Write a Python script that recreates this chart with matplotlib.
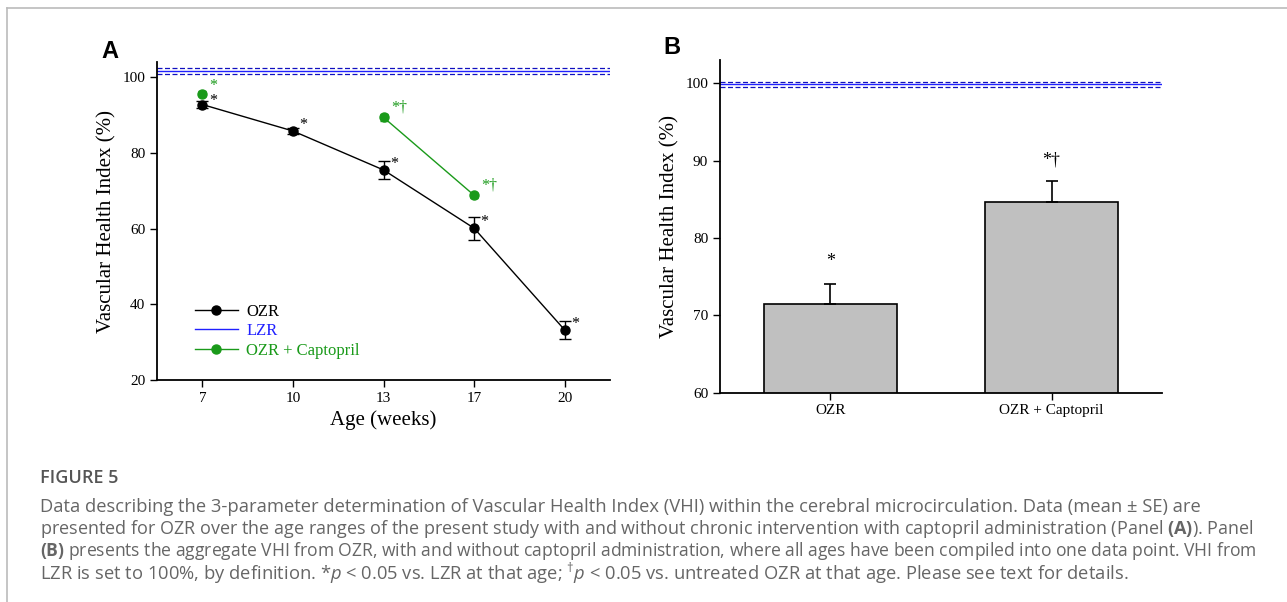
import numpy as np
import matplotlib
matplotlib.use("Agg")
import matplotlib.pyplot as plt
from matplotlib.lines import Line2D

# ---- data ----
ages = ["7", "10", "13", "17", "20"]
ozr = [92.8, 85.8, 75.5, 60.1, 33.2]
ozr_se = [0.8, 0.8, 2.3, 3.0, 2.5]
capto = [95.7, np.nan, 89.4, 68.8, np.nan]
capto_se = [0.6, np.nan, 1.0, 0.7, np.nan]
lzr_a = 101.7
lzr_a_band = [100.9, 102.5]

groups = ["OZR", "OZR + Captopril"]
agg = [71.5, 84.7]
agg_se = [2.6, 2.7]
lzr_b = 99.9
lzr_b_band = [99.5, 100.2]

serif = ["Liberation Serif", "DejaVu Serif"]
capfont = "Open Sans"
plt.rcParams["mathtext.fontset"] = "custom"
plt.rcParams["mathtext.rm"] = capfont
plt.rcParams["mathtext.it"] = capfont + ":italic"
plt.rcParams["mathtext.bf"] = capfont + ":weight=bold"

W, H = 1287, 602
fig = plt.figure(figsize=(W / 100, H / 100), dpi=100)
green = "#1a9a1a"
blue = "#2020ff"

# ---- panel A ----
ax = fig.add_axes([0.1220, 0.3688, 0.352, 0.528])
x = np.arange(len(ages))
ax.errorbar(x, ozr, yerr=ozr_se, color="black", marker="o", ms=6.5, lw=1,
            capsize=4, elinewidth=1, capthick=1)
ax.errorbar(x, capto, yerr=capto_se, color=green, marker="o", ms=6.5, lw=1,
            capsize=3, elinewidth=1, capthick=1)
ax.axhline(lzr_a, color=blue, lw=1)
for v in lzr_a_band:
    ax.axhline(v, color="#1010c0", lw=0.9, ls=(0, (4, 2)))

for xi, yi in zip(x, ozr):
    ax.annotate("*", (xi, yi), xytext=(7.5, 2.5 if xi == 0 else 4.5),
                textcoords="offset points", fontsize=11.5, family=serif,
                ha="center", va="center")
capto_marks = ["*", "", "*\u2020", "*\u2020", ""]
for xi, yi, m in zip(x, capto, capto_marks):
    if m:
        ax.annotate(m, (xi, yi), xytext=(7.5 if xi == 0 else 11, 5.5 if xi == 0 else 7),
                    textcoords="offset points", fontsize=11.5, family=serif,
                    color=green, ha="center", va="center")

ax.set_xlim(-0.5, 4.5)
ax.set_ylim(20, 104)
ax.set_xticks(x)
ax.set_xticklabels(ages)
ax.set_yticks([20, 40, 60, 80, 100])
ax.set_xlabel("Age (weeks)", family=serif, fontsize=15)
ax.set_ylabel("Vascular Health Index (%)", family=serif, fontsize=15)

handles = [
    Line2D([], [], color="black", marker="o", ms=6.5, lw=1),
    Line2D([], [], color=blue, lw=1),
    Line2D([], [], color=green, marker="o", ms=6.5, lw=1),
]
leg = ax.legend(handles, ["OZR", "LZR", "OZR + Captopril"], loc="lower left",
                bbox_to_anchor=(0.05, 0.02), frameon=False,
                prop={"family": serif, "size": 12}, handlelength=2.6,
                labelspacing=0.2, handletextpad=0.5,
                labelcolor=["black", blue, green])

# ---- panel B ----
bx = fig.add_axes([0.5594, 0.3477, 0.3435, 0.5526])
xb = np.arange(len(groups))
bx.bar(xb, agg, width=0.6, color="#c0c0c0", edgecolor="black", lw=1.2)
bx.errorbar(xb, agg, yerr=[[0, 0], agg_se], fmt="none", ecolor="black",
            capsize=4, elinewidth=1.2, capthick=1.2)
bx.axhline(lzr_b, color=blue, lw=1)
for v in lzr_b_band:
    bx.axhline(v, color="#1010c0", lw=0.9, ls=(0, (4, 2)))
bx.text(xb[0], agg[0] + agg_se[0] + 1.7, "*", ha="center", va="bottom",
        family=serif, fontsize=13)
bx.text(xb[1], agg[1] + agg_se[1] + 1.6, "*\u2020", ha="center", va="bottom",
        family=serif, fontsize=13)
bx.set_xlim(-0.5, 1.5)
bx.set_ylim(60, 103)
bx.set_xticks(xb)
bx.set_xticklabels(groups)
bx.set_yticks([60, 70, 80, 90, 100])
bx.set_ylabel("Vascular Health Index (%)", family=serif, fontsize=15)

for a in (ax, bx):
    a.spines["top"].set_visible(False)
    a.spines["right"].set_visible(False)
    a.spines["left"].set_linewidth(1.3)
    a.spines["bottom"].set_linewidth(1.3)
    a.tick_params(direction="out", length=5, width=1)
    for lab in a.get_xticklabels() + a.get_yticklabels():
        lab.set_family(serif)
        lab.set_fontsize(11)

fig.text(110 / W, 1 - 52 / H, "A", fontsize=17, fontweight="bold",
         family="Liberation Sans", ha="center", va="center")
fig.text(672 / W, 1 - 48 / H, "B", fontsize=17, fontweight="bold",
         family="Liberation Sans", ha="center", va="center")

# ---- frame lines ----
fig.add_artist(Line2D([7 / W, 1], [1 - 8 / H] * 2, color="#bbbbbb", lw=1.2))
fig.add_artist(Line2D([7 / W] * 2, [0, 1 - 8 / H], color="#bbbbbb", lw=1.2))

# ---- caption ----
fig.text(40 / W, 1 - 478 / H, "FIGURE 5", fontsize=13, family=capfont,
         fontweight="semibold", color="#555555", va="center")
lines = [
    "Data describing the 3-parameter determination of Vascular Health Index (VHI) within the cerebral microcirculation. Data (mean \u00b1 SE) are",
    r"presented for OZR over the age ranges of the present study with and without chronic intervention with captopril administration (Panel $\mathbf{(A)}$). Panel",
    r"$\mathbf{(B)}$ presents the aggregate VHI from OZR, with and without captopril administration, where all ages have been compiled into one data point. VHI from",
    r"LZR is set to 100%, by definition. *$\mathit{p}$ < 0.05 vs. LZR at that age; $^{\dagger}\mathit{p}$ < 0.05 vs. untreated OZR at that age. Please see text for details.",
]
line_y = [507, 529, 551, 573]
line_end = [1203, 1250, 1258, 1142]
texts = []
for t, yy in zip(lines, line_y):
    texts.append(fig.text(40 / W, 1 - yy / H, t, fontsize=13, family=capfont,
                          color="#666666", va="center"))
renderer = fig.canvas.get_renderer()
for t, end in zip(texts, line_end):
    w = t.get_window_extent(renderer).width
    t.set_fontsize(min(13.2, 13 * (end - 40) / w))

fig.savefig("out.png", dpi=100)
